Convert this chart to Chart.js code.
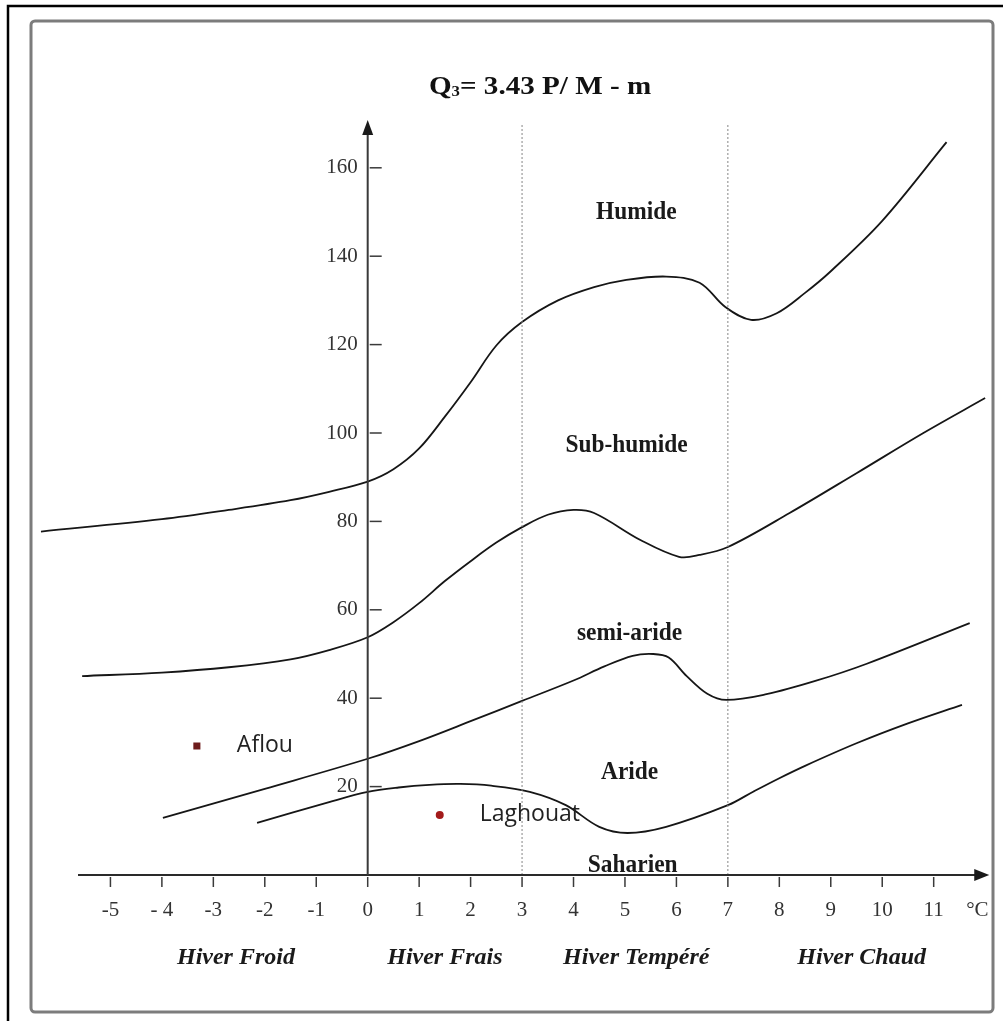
<!DOCTYPE html>
<html>
<head>
<meta charset="utf-8">
<script src="https://cdn.jsdelivr.net/npm/chart.js@4.4.0/dist/chart.umd.min.js"></script>
<style>
  html, body { margin: 0; padding: 0; background: #fff; }
  canvas { display: block; }
</style>
</head>
<body>
<canvas id="chart" width="1003" height="1021"></canvas>
<script>
// boundary curves of the climagram (x = m in °C, y = Q3)
const humideX = [-6.35, -4, -2.7, -1.5, -0.75, 0, 0.5, 1.0, 1.5, 2.0, 2.5, 3.0, 3.7, 4.4, 5.0, 5.8, 6.45, 6.95, 7.45, 7.95, 8.5, 9.0, 10.0, 11.25];
const humideY = [77.7, 80.5, 82.6, 84.8, 86.7, 89, 91.8, 96.5, 103.7, 111.5, 119.8, 125.1, 130, 133, 134.6, 135.4, 134, 128.5, 125.6, 127.1, 131.7, 136.6, 148, 165.8];

const subHumideX = [-5.55, -4, -2.7, -1.5, -0.75, 0, 0.5, 1.0, 1.5, 2.0, 2.5, 3.0, 3.5, 4.0, 4.4, 5.3, 6.05, 6.45, 7.0, 8.2, 9.5, 10.8, 12.0];
const subHumideY = [45, 45.8, 47, 48.8, 50.9, 53.8, 57.2, 61.5, 66.5, 71, 75.2, 78.7, 81.5, 82.6, 81.9, 75.8, 72, 72.4, 74.2, 81.9, 90.9, 100, 107.9];

const semiArideX = [-3.98, -2, 0, 1, 2, 3, 4, 4.6, 5.15, 5.55, 5.85, 6.2, 6.6, 6.97, 7.75, 8.7, 9.7, 11.7];
const semiArideY = [12.9, 19.5, 26.3, 30.3, 34.8, 39.4, 44, 47.2, 49.6, 50, 49.2, 45, 41, 39.6, 40.9, 43.9, 47.8, 57];

const arideX = [-2.15, -0.75, 0, 0.6, 1.2, 1.8, 2.4, 3.15, 3.85, 4.5, 5.05, 5.8, 7.0, 7.5, 8.0, 8.5, 9.5, 10.5, 11.55];
const arideY = [11.8, 16.5, 18.8, 19.8, 20.4, 20.6, 20.2, 18.8, 15.8, 10.9, 9.5, 10.9, 15.8, 18.9, 21.9, 24.7, 29.8, 34.3, 38.5];

// stations
const stations = ["Aflou", "Laghouat"];
const stationX = [-3.32, 1.4];
const stationY = [29.2, 13.6];

// winter type separators
const separatorX = [3, 7];
const separatorTop = 170;

// axes
const xTicks = [-5, -4, -3, -2, -1, 0, 1, 2, 3, 4, 5, 6, 7, 8, 9, 10, 11];
const xTickLabels = ["-5", "- 4", "-3", "-2", "-1", "0", "1", "2", "3", "4", "5", "6", "7", "8", "9", "10", "11"];
const yTicks = [20, 40, 60, 80, 100, 120, 140, 160];
const xAxisStart = -5.63, xAxisEnd = 12.08;
const yAxisEnd = 170.8;

// zone names and winter names
const zones = ["Humide", "Sub-humide", "semi-aride", "Aride", "Saharien"];
const zoneX = [5.22, 5.03, 5.09, 5.09, 5.15];
const zoneY = [150, 97.3, 54.8, 23.3, 2.3];
const winters = ["Hiver Froid", "Hiver Frais", "Hiver Tempéré", "Hiver Chaud"];
const winterX = [-2.56, 1.5, 5.22, 9.6];

function toPoints(xs, ys) {
  return xs.map((x, i) => ({ x: x, y: ys[i] }));
}

function curve(xs, ys) {
  return {
    data: toPoints(xs, ys),
    showLine: true,
    borderColor: "#161616",
    borderWidth: 1.8,
    pointRadius: 0,
    tension: 0.35,
    capBezierPoints: false,
    clip: false
  };
}

function separator(x) {
  return {
    data: [{ x: x, y: 0 }, { x: x, y: separatorTop }],
    showLine: true,
    borderColor: "#858585",
    borderWidth: 1,
    borderDash: [2, 2],
    pointRadius: 0
  };
}

const SERIF = '"Liberation Serif", "DejaVu Serif", serif';

function drawText(ctx, text, x, y, font, color, align, sx) {
  ctx.save();
  ctx.font = font;
  ctx.fillStyle = color;
  ctx.textBaseline = "middle";
  ctx.textAlign = align || "center";
  ctx.translate(x, y);
  ctx.scale(sx || 1, 1);
  ctx.fillText(text, 0, 0);
  ctx.restore();
}

const framePlugin = {
  id: "frame",
  beforeDraw(chart) {
    const ctx = chart.ctx;
    ctx.save();
    ctx.fillStyle = "#fff";
    ctx.fillRect(0, 0, chart.width, chart.height);
    // outer black border
    ctx.strokeStyle = "#000";
    ctx.lineWidth = 2.5;
    ctx.beginPath();
    ctx.moveTo(8, chart.height + 2);
    ctx.lineTo(8, 6);
    ctx.lineTo(chart.width + 2, 6);
    ctx.stroke();
    // inner grey border
    ctx.strokeStyle = "#7c7c7c";
    ctx.lineWidth = 3;
    ctx.beginPath();
    ctx.roundRect(31, 21, 962, 991, 4);
    ctx.stroke();
    ctx.restore();
  }
};

const axesPlugin = {
  id: "axes",
  afterDatasetsDraw(chart) {
    const ctx = chart.ctx;
    const xs = chart.scales.x, ys = chart.scales.y;
    const x0 = xs.getPixelForValue(0), y0 = ys.getPixelForValue(0);
    ctx.save();

    // x axis with arrow
    const xEnd = xs.getPixelForValue(xAxisEnd);
    ctx.strokeStyle = "#2a2a2a";
    ctx.lineWidth = 2;
    ctx.beginPath();
    ctx.moveTo(xs.getPixelForValue(xAxisStart), y0);
    ctx.lineTo(xEnd - 10, y0);
    ctx.stroke();
    ctx.fillStyle = "#1a1a1a";
    ctx.beginPath();
    ctx.moveTo(xEnd, y0);
    ctx.lineTo(xEnd - 15, y0 - 6);
    ctx.lineTo(xEnd - 15, y0 + 6);
    ctx.closePath();
    ctx.fill();

    // y axis with arrow
    const yEnd = ys.getPixelForValue(yAxisEnd);
    ctx.strokeStyle = "#3a3a3a";
    ctx.beginPath();
    ctx.moveTo(x0, y0);
    ctx.lineTo(x0, yEnd + 10);
    ctx.stroke();
    ctx.beginPath();
    ctx.moveTo(x0, yEnd);
    ctx.lineTo(x0 - 5.5, yEnd + 15);
    ctx.lineTo(x0 + 5.5, yEnd + 15);
    ctx.closePath();
    ctx.fill();

    // ticks
    ctx.strokeStyle = "#3a3a3a";
    ctx.lineWidth = 1.5;
    xTicks.forEach((v, i) => {
      const px = xs.getPixelForValue(v);
      ctx.beginPath();
      ctx.moveTo(px, y0 + 2);
      ctx.lineTo(px, y0 + 12);
      ctx.stroke();
      drawText(ctx, xTickLabels[i], px, y0 + 35, "21px " + SERIF, "#333", "center");
    });
    drawText(ctx, "°C", xs.getPixelForValue(11.85), y0 + 35, "21px " + SERIF, "#333", "center");
    yTicks.forEach(v => {
      const py = ys.getPixelForValue(v);
      ctx.beginPath();
      ctx.moveTo(x0 + 2, py);
      ctx.lineTo(x0 + 14, py);
      ctx.stroke();
      drawText(ctx, String(v), x0 - 10, py, "21px " + SERIF, "#333", "right");
    });

    // zone names
    zones.forEach((z, i) => {
      drawText(ctx, z, xs.getPixelForValue(zoneX[i]), ys.getPixelForValue(zoneY[i]),
        "bold 26px " + SERIF, "#1a1a1a", "center", 0.9);
    });
    winters.forEach((w, i) => {
      drawText(ctx, w, xs.getPixelForValue(winterX[i]), y0 + 83,
        "italic bold 24px " + SERIF, "#1a1a1a", "center");
    });

    // station names
    stations.forEach((s, i) => {
      drawText(ctx, s, xs.getPixelForValue(stationX[i]) + 40, ys.getPixelForValue(stationY[i]),
        '23px "Open Sans", sans-serif', "#222", "left");
    });

    // title: Q3= 3.43 P/ M - m
    const tx = xs.getPixelForValue(3.35), ty = 87;
    const sx = 1.12;
    ctx.font = "bold 26px " + SERIF;
    const wQ = ctx.measureText("Q").width;
    const rest = "= 3.43 P/ M - m";
    const wRest = ctx.measureText(rest).width;
    ctx.font = "bold 15px " + SERIF;
    const wSub = ctx.measureText("3").width;
    const total = (wQ + wSub + wRest) * sx;
    let left = tx - total / 2;
    drawText(ctx, "Q", left, ty, "bold 26px " + SERIF, "#111", "left", sx);
    left += wQ * sx;
    drawText(ctx, "3", left, ty + 5, "bold 15px " + SERIF, "#111", "left", sx);
    left += wSub * sx;
    drawText(ctx, rest, left, ty, "bold 26px " + SERIF, "#111", "left", sx);

    ctx.restore();
  }
};

const ctx = document.getElementById("chart").getContext("2d");
new Chart(ctx, {
  type: "scatter",
  data: {
    datasets: [
      separator(separatorX[0]),
      separator(separatorX[1]),
      curve(humideX, humideY),
      curve(subHumideX, subHumideY),
      curve(semiArideX, semiArideY),
      curve(arideX, arideY),
      {
        data: [{ x: stationX[0], y: stationY[0] }],
        pointStyle: "rect",
        pointRadius: 5,
        backgroundColor: "#6e1c1c",
        borderWidth: 0
      },
      {
        data: [{ x: stationX[1], y: stationY[1] }],
        pointStyle: "circle",
        pointRadius: 4,
        backgroundColor: "#a31b1b",
        borderWidth: 0
      }
    ]
  },
  options: {
    responsive: false,
    animation: false,
    layout: { padding: { left: 33.25, right: 4.15, top: 35.2, bottom: 101.8 } },
    plugins: { legend: { display: false }, tooltip: { enabled: false } },
    scales: {
      x: { type: "linear", min: -6.5, max: 12.25, display: false },
      y: { type: "linear", min: -10, max: 190, display: false }
    }
  },
  plugins: [framePlugin, axesPlugin]
});
</script>
</body>
</html>
